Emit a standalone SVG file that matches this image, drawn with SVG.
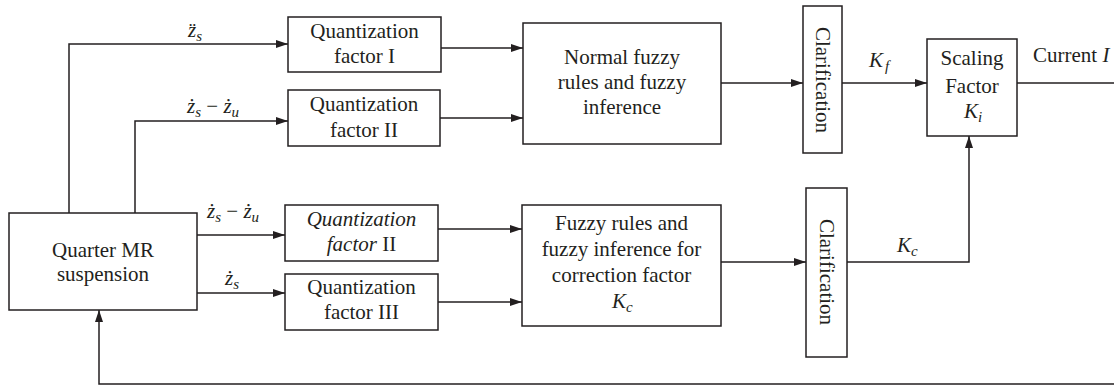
<svg xmlns="http://www.w3.org/2000/svg" width="1114" height="387" viewBox="0 0 1114 387">
<style>
.box{fill:#fff;stroke:#231f20;stroke-width:1.5}
.t{font-family:"Liberation Serif","Times New Roman",serif;font-size:21px;fill:#231f20;text-anchor:middle}
.m{font-family:"Liberation Serif","Times New Roman",serif;font-size:21px;fill:#231f20;font-style:italic}
.sub{font-size:15px}
.up{font-style:normal}
.c{fill:none;stroke:#231f20;stroke-width:1.5}
</style>
<defs>
<marker id="ar" viewBox="0 0 12 8" refX="12" refY="4" markerWidth="12" markerHeight="8" markerUnits="userSpaceOnUse" orient="auto">
<path d="M0,0 L12,4 L0,8 Z" fill="#231f20"/>
</marker>
</defs>
<g id="connectors">
<polyline class="c" points="69,213 69,44 288,44" marker-end="url(#ar)"/>
<polyline class="c" points="135,213 135,121 288,121" marker-end="url(#ar)"/>
<line class="c" x1="441" y1="48" x2="523" y2="48" marker-end="url(#ar)"/>
<line class="c" x1="440" y1="118" x2="523" y2="118" marker-end="url(#ar)"/>
<line class="c" x1="721" y1="83" x2="803" y2="83" marker-end="url(#ar)"/>
<line class="c" x1="842" y1="83" x2="927" y2="83" marker-end="url(#ar)"/>
<line class="c" x1="1017" y1="83" x2="1114" y2="83"/>
<line class="c" x1="197" y1="235" x2="285" y2="235" marker-end="url(#ar)"/>
<line class="c" x1="197" y1="293" x2="285" y2="293" marker-end="url(#ar)"/>
<line class="c" x1="437" y1="229" x2="522" y2="229" marker-end="url(#ar)"/>
<line class="c" x1="438" y1="302" x2="522" y2="302" marker-end="url(#ar)"/>
<line class="c" x1="721" y1="262" x2="806" y2="262" marker-end="url(#ar)"/>
<polyline class="c" points="847,262 969,262 969,136" marker-end="url(#ar)"/>
<polyline class="c" points="1114,384 99,384 99,310" marker-end="url(#ar)"/>
<text class="m" x="188" y="37">z&#776;<tspan class="sub" dy="4">s</tspan></text>
<text class="m" x="187" y="113">ż<tspan class="sub" dy="4">s</tspan><tspan class="up" dy="-4"> − </tspan>ż<tspan class="sub" dy="4">u</tspan></text>
<text class="m" x="207" y="218">ż<tspan class="sub" dy="4">s</tspan><tspan class="up" dy="-4"> − </tspan>ż<tspan class="sub" dy="4">u</tspan></text>
<text class="m" x="225" y="285">ż<tspan class="sub" dy="4">s</tspan></text>
<text class="m" x="869" y="67">K<tspan class="sub" dy="4" dx="2">f</tspan></text>
<text class="m" x="897" y="252">K<tspan class="sub" dy="4">c</tspan></text>
<text class="t" x="1033" y="62" style="text-anchor:start">Current <tspan font-style="italic">I</tspan></text>
</g>
<g id="quarter">
<rect class="box" x="9" y="213" width="188" height="97"/>
<text class="t" x="103" y="257">Quarter MR</text>
<text class="t" x="103" y="281">suspension</text>
</g>
<g id="qf1">
<rect class="box" x="288" y="17" width="153" height="55"/>
<text class="t" x="364.5" y="38">Quantization</text>
<text class="t" x="364.5" y="63">factor I</text>
</g>
<g id="qf2">
<rect class="box" x="288" y="90" width="152" height="56"/>
<text class="t" x="364" y="111">Quantization</text>
<text class="t" x="364" y="137">factor II</text>
</g>
<g id="normal">
<rect class="box" x="523" y="23" width="198" height="121"/>
<text class="t" x="622" y="64">Normal fuzzy</text>
<text class="t" x="622" y="89">rules and fuzzy</text>
<text class="t" x="622" y="114">inference</text>
</g>
<g id="clar1">
<rect class="box" x="803" y="6" width="39" height="147"/>
<text class="t" transform="translate(815.5,80) rotate(90)">Clarification</text>
</g>
<g id="scaling">
<rect class="box" x="927" y="39" width="90" height="97"/>
<text class="t" x="972" y="65">Scaling</text>
<text class="t" x="972" y="93">Factor</text>
<text class="m" x="964" y="118">K<tspan class="sub" dy="4">i</tspan></text>
</g>
<g id="qf2b">
<rect class="box" x="285" y="205" width="153" height="56"/>
<text class="t" x="361.5" y="226" font-style="italic">Quantization</text>
<text class="t" x="361.5" y="251"><tspan font-style="italic">factor</tspan> II</text>
</g>
<g id="qf3">
<rect class="box" x="285" y="274" width="153" height="56"/>
<text class="t" x="361.5" y="294">Quantization</text>
<text class="t" x="361.5" y="319">factor III</text>
</g>
<g id="fuzzy">
<rect class="box" x="522" y="205" width="199" height="121"/>
<text class="t" x="621.5" y="230">Fuzzy rules and</text>
<text class="t" x="621.5" y="256">fuzzy inference for</text>
<text class="t" x="621.5" y="282">correction factor</text>
<text class="m" x="612" y="308">K<tspan class="sub" dy="4">c</tspan></text>
</g>
<g id="clar2">
<rect class="box" x="806" y="188" width="41" height="169"/>
<text class="t" transform="translate(819.5,272) rotate(90)">Clarification</text>
</g>
</svg>
